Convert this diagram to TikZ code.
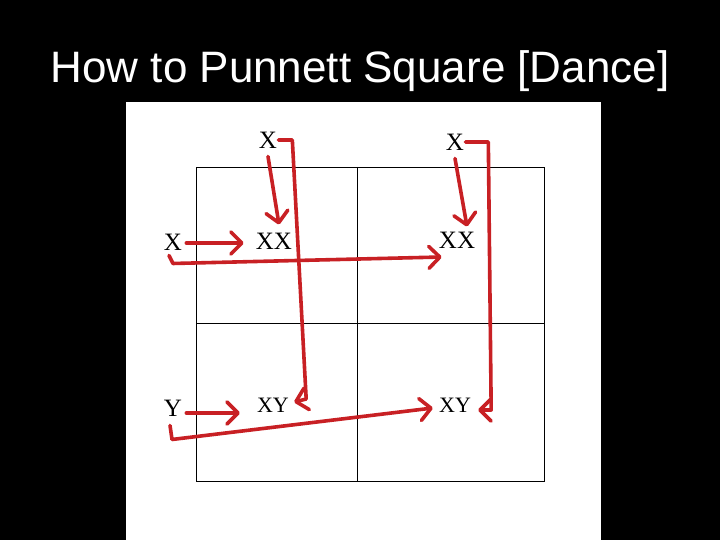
\documentclass[tikz,border=0pt]{standalone}
\usepackage{fontspec}
\setmainfont{Liberation Serif}
\newfontfamily\titlefont{Liberation Sans}
\usetikzlibrary{arrows.meta,calc}

\definecolor{punnettred}{RGB}{200,32,36}

\begin{document}
\begin{tikzpicture}[x=1pt,y=-1pt,>={Straight Barb[length=11pt,width=22pt,round]},
                    semithick]

  \tikzstyle{allele}=[inner sep=1pt,font=\fontsize{25}{25}\selectfont]
  \tikzstyle{pair}=[inner sep=1pt,font=\fontsize{25}{25}\selectfont]
  \tikzstyle{dance}=[->,draw=punnettred,line width=3.6pt,line join=round,line cap=round]

  % slide and paper
  \fill[black] (0,0) rectangle (720,540);
  \fill[white] (126,102) rectangle (601,540);
  \node[text=white,font=\titlefont\fontsize{44}{44}\selectfont,anchor=base,inner sep=0pt]
       (title) at (360,83) {How to Punnett Square [Dance]};

  % the square
  \draw[line width=0.9pt] (196,167) rectangle (544,481)
        (357,167) -- (357,481) (196,323) -- (544,323);

  \node[allele] (xa) at (268,140) {X};
  \node[allele] (xb) at (455,142) {X};
  \node[allele] (xl) at (173,242) {X};
  \node[allele] (yl) at (173,408) {Y};
  \node[pair]   (xxa) at (274,241) {XX};
  \node[pair]   (xxb) at (457,240) {XX};
  \node[pair,font=\fontsize{22}{22}\selectfont] (xya) at (273,405) {XY};
  \node[pair,font=\fontsize{22}{22}\selectfont] (xyb) at (455,405) {XY};

  % short moves
  \draw[dance] ($(xa.south)+(0,7)$) -- ($(xxa.north)+(5,-7)$);
  \draw[dance] ($(xb.south)+(0,7)$) -- ($(xxb.north)+(10,-4)$);
  \draw[dance] ($(xl.east)+(3,1)$) -- ($(xxa.west)+(-11,2)$);
  \draw[dance] ($(yl.east)+(3,5)$) -- ($(xya.west)+(-16,8)$);

  % long moves
  \draw[dance] (xa.east) -- ++(14,0) -- ($(xya.east)+(16,-6)$) -- ($(xya.east)+(4,-3)$);
  \draw[dance] (xb.east) -- ++(23,0) -- ($(xyb.east)+(19,5)$) -- ($(xyb.east)+(6,5)$);
  \draw[dance] ($(xl.south)+(-4,4)$) -- ($(xl.south)+(0,12)$) -- ($(xxb.west)+(4,17)$);
  \draw[dance] ($(yl.south)+(-3,8)$) -- ($(yl.south)+(-1,22)$) -- ($(xyb.west)+(-5,3)$);
\end{tikzpicture}
\end{document}
